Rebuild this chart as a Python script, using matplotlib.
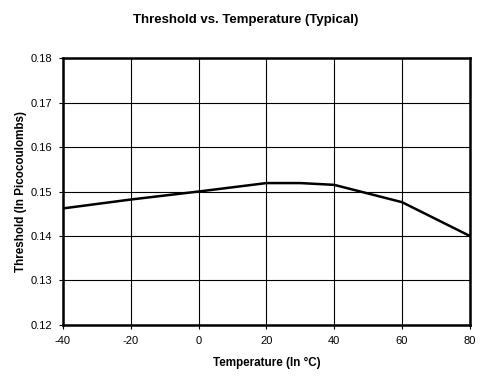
import matplotlib
matplotlib.use('Agg')
import matplotlib.pyplot as plt

plt.rcParams['font.family'] = ['Liberation Sans', 'DejaVu Sans']

temps = [-40, -20, 0, 20, 30, 40, 60, 80]
threshold = [0.1462, 0.1482, 0.1500, 0.1519, 0.1519, 0.1515, 0.1476, 0.1400]
xticks = [-40, -20, 0, 20, 40, 60, 80]
yticks = [0.12, 0.13, 0.14, 0.15, 0.16, 0.17, 0.18]

fig = plt.figure(figsize=(4.92, 3.80), dpi=100)
ax = fig.add_axes([0.128, 0.145, 0.827, 0.702])
ax.plot(temps, threshold, color='black', lw=1.8, zorder=3)
ax.set_xlim(-40, 80); ax.set_ylim(0.12, 0.18)
ax.set_xticks(xticks); ax.set_yticks(yticks)
ax.set_xticklabels([str(t) for t in xticks], fontsize=8)
ax.set_yticklabels([f'{v:.2f}' for v in yticks], fontsize=8)
ax.grid(color='black', lw=0.8)
for s in ax.spines.values():
    s.set_linewidth(1.8)
ax.tick_params(direction='out', length=3, width=0.8, pad=5)
ax.set_xlabel('Temperature (In °C)', fontsize=8.4, fontweight='bold', labelpad=8)
ax.set_ylabel('Threshold (In Picocoulombs)', fontsize=8.4, fontweight='bold', labelpad=2)
fig.text(0.5, 0.948, 'Threshold vs. Temperature (Typical)', ha='center', va='center',
         fontsize=9.5, fontweight='bold')
fig.savefig('out.png', dpi=100)
